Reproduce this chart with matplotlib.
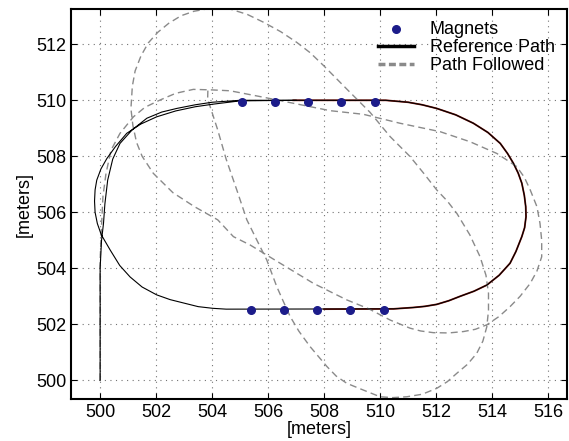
import matplotlib
matplotlib.use("Agg")
import matplotlib.pyplot as plt

plt.rcParams["font.family"] = ["Liberation Sans", "DejaVu Sans"]

# magnets along the two straights
magnets_x = [505.06, 506.23, 507.44, 508.60, 509.80,
             505.39, 506.57, 507.76, 508.94, 510.13]
magnets_y = [509.95] * 5 + [502.51] * 5

# reference path (traced)
ref_pts = [
    (500.0, 500.0), (500.0, 504.0), (500.05, 505.0), (500.12, 505.6),
    (500.17, 506.3), (500.27, 507.15), (500.45, 507.9), (500.71, 508.46),
    (501.15, 508.95), (501.67, 509.36), (502.2, 509.58), (502.74, 509.71),
    (503.4, 509.84), (504.0, 509.93), (505.0, 510.0), (510.2, 510.0),
    (511.0, 509.93), (511.5, 509.84), (512.02, 509.71), (512.7, 509.48),
    (513.33, 509.18), (513.85, 508.85), (514.29, 508.46), (514.55, 508.1),
    (514.76, 507.75), (514.93, 507.4), (515.06, 507.04), (515.15, 506.6),
    (515.2, 506.2), (515.21, 505.84), (515.16, 505.45), (515.06, 505.13),
    (514.85, 504.6), (514.64, 504.18), (514.25, 503.75), (513.81, 503.4),
    (513.35, 503.18), (512.86, 503.0), (512.45, 502.84), (512.02, 502.71),
    (511.6, 502.64), (511.2, 502.6), (510.48, 502.55), (504.5, 502.54),
    (504.02, 502.57), (503.5, 502.63), (503.1, 502.73), (502.5, 502.88),
    (502.02, 503.05), (501.5, 503.33), (501.07, 503.69), (500.7, 504.1),
    (500.36, 504.65), (500.04, 505.2), (499.9, 505.6), (499.82, 506.0),
    (499.8, 506.4), (499.82, 506.8), (499.88, 507.15), (500.03, 507.55),
    (500.24, 507.92), (500.55, 508.35), (500.95, 508.82), (501.45, 509.15),
    (502.02, 509.41), (502.7, 509.62), (503.4, 509.77), (504.02, 509.86),
    (505.0, 509.98), (507.0, 510.0),
]
ref_x = [p[0] for p in ref_pts]
ref_y = [p[1] for p in ref_pts]

# second lap of the reference (red, right end only)
lap2_pts = [
    (506.9, 510.0), (510.2, 510.0), (511.0, 509.93), (511.5, 509.84),
    (512.02, 509.71), (512.7, 509.48), (513.33, 509.18), (513.85, 508.85),
    (514.29, 508.46), (514.55, 508.1), (514.76, 507.75), (514.93, 507.4),
    (515.06, 507.04), (515.15, 506.6), (515.2, 506.2), (515.21, 505.84),
    (515.16, 505.45), (515.06, 505.13), (514.85, 504.6), (514.64, 504.18),
    (514.25, 503.75), (513.81, 503.4), (513.35, 503.18), (512.86, 503.0),
    (512.45, 502.84), (512.02, 502.71), (511.6, 502.64), (511.2, 502.6),
    (510.48, 502.55), (508.0, 502.54),
]
lap2_x = [p[0] for p in lap2_pts]
lap2_y = [p[1] for p in lap2_pts]

# path followed (traced)
path_pts = [
    (500.0, 500.0), (500.0, 504.3), (500.05, 505.5), (500.1, 506.56),
    (500.21, 507.39), (500.39, 508.22), (500.71, 508.82), (501.19, 509.41),
    (501.6, 509.75), (502.14, 510.01), (502.7, 510.25), (503.33, 510.39),
    (504.02, 510.37), (504.64, 510.34), (505.83, 510.11), (507.02, 509.87),
    (508.21, 509.63), (509.4, 509.5), (510.71, 509.18), (512.14, 508.88),
    (513.21, 508.52), (514.17, 508.1), (514.55, 507.85), (514.88, 507.63),
    (515.15, 507.25), (515.36, 506.8), (515.6, 506.2), (515.71, 505.6),
    (515.77, 505.0), (515.77, 504.41), (515.6, 503.9), (515.36, 503.46),
    (515.0, 503.0), (514.64, 502.63), (514.25, 502.28), (513.81, 501.98),
    (513.4, 501.82), (512.98, 501.74), (512.45, 501.69), (511.9, 501.7),
    (511.45, 501.76), (511.07, 501.86), (510.36, 502.15), (509.6, 502.55),
    (508.81, 502.87), (507.62, 503.46), (506.43, 504.18), (505.36, 504.83),
    (504.76, 505.13), (504.2, 505.73), (503.37, 506.2), (502.6, 506.7),
    (501.9, 507.39), (501.5, 508.0), (501.3, 508.5), (501.17, 509.1),
    (501.1, 509.7), (501.15, 510.5), (501.25, 511.05), (501.46, 511.59),
    (501.72, 512.05), (502.06, 512.43), (502.45, 512.75), (502.89, 513.02),
    (503.35, 513.18), (503.8, 513.26), (504.2, 513.29), (504.64, 513.26),
    (505.25, 513.07), (505.83, 512.79), (506.45, 512.45), (507.02, 512.07),
    (507.5, 511.7), (507.98, 511.24), (508.81, 510.4), (509.64, 509.57),
    (510.36, 508.7), (511.07, 507.99), (511.55, 507.4), (512.02, 506.8),
    (512.4, 506.4), (512.74, 505.96), (513.2, 505.2), (513.57, 504.41),
    (513.78, 503.75), (513.87, 503.11), (513.87, 502.5), (513.81, 501.91),
    (513.67, 501.4), (513.45, 500.96), (513.12, 500.57), (512.74, 500.25),
    (512.4, 499.95), (512.02, 499.71), (511.5, 499.5), (510.95, 499.41),
    (510.45, 499.38), (510.0, 499.41), (509.4, 499.65), (508.81, 499.89),
    (508.43, 500.15), (508.1, 500.49), (507.5, 501.2), (507.1, 501.75),
    (506.79, 502.27), (506.55, 502.8), (506.31, 503.34), (505.95, 504.3),
    (505.6, 505.0), (505.24, 505.73), (504.88, 506.8), (504.5, 507.9),
    (504.2, 508.94), (503.84, 510.05), (503.85, 510.45),
]
path_x = [p[0] for p in path_pts]
path_y = [p[1] for p in path_pts]

fig = plt.figure(figsize=(5.69, 4.41), dpi=100)
ax = fig.add_axes([0.1248, 0.0952, 0.871, 0.8837])

ax.plot(lap2_x, lap2_y, color="#8b1a12", lw=1.3, zorder=2)
ax.plot(ref_x, ref_y, color="black", lw=0.8, zorder=3)
ax.plot(path_x, path_y, color="#8a8a8a", lw=1.0, dashes=(5, 3), zorder=2)
ax.scatter(magnets_x, magnets_y, s=30, color="#1c1c8a", zorder=4)

# legend handles
ax.scatter([], [], s=30, color="#1c1c8a", label="Magnets")
ax.plot([], [], color="black", lw=2.5, label="Reference Path")
ax.plot([], [], color="#8a8a8a", lw=2.5, dashes=(2, 1), label="Path Followed")

ax.set_xlim(498.96, 516.66)
ax.set_ylim(499.33, 513.25)
ax.set_xticks(range(500, 517, 2))
ax.set_yticks(range(500, 513, 2))
ax.grid(True, color="0.45", linestyle=(0, (1, 4)), lw=0.8)
ax.tick_params(direction="in", top=True, right=True, labelsize=13, length=4)
for s in ax.spines.values():
    s.set_linewidth(1.5)
ax.set_xlabel("[meters]", fontsize=13, labelpad=0)
ax.set_ylabel("[meters]", fontsize=13, labelpad=2)

handles, labels = ax.get_legend_handles_labels()
ax.legend(handles[-3:], labels[-3:], loc="upper right", frameon=False,
          fontsize=13, handlelength=2.0, handletextpad=0.9, labelspacing=0.05,
          borderaxespad=0.35, borderpad=0.3, scatterpoints=1)

fig.savefig("out.png", dpi=100)
